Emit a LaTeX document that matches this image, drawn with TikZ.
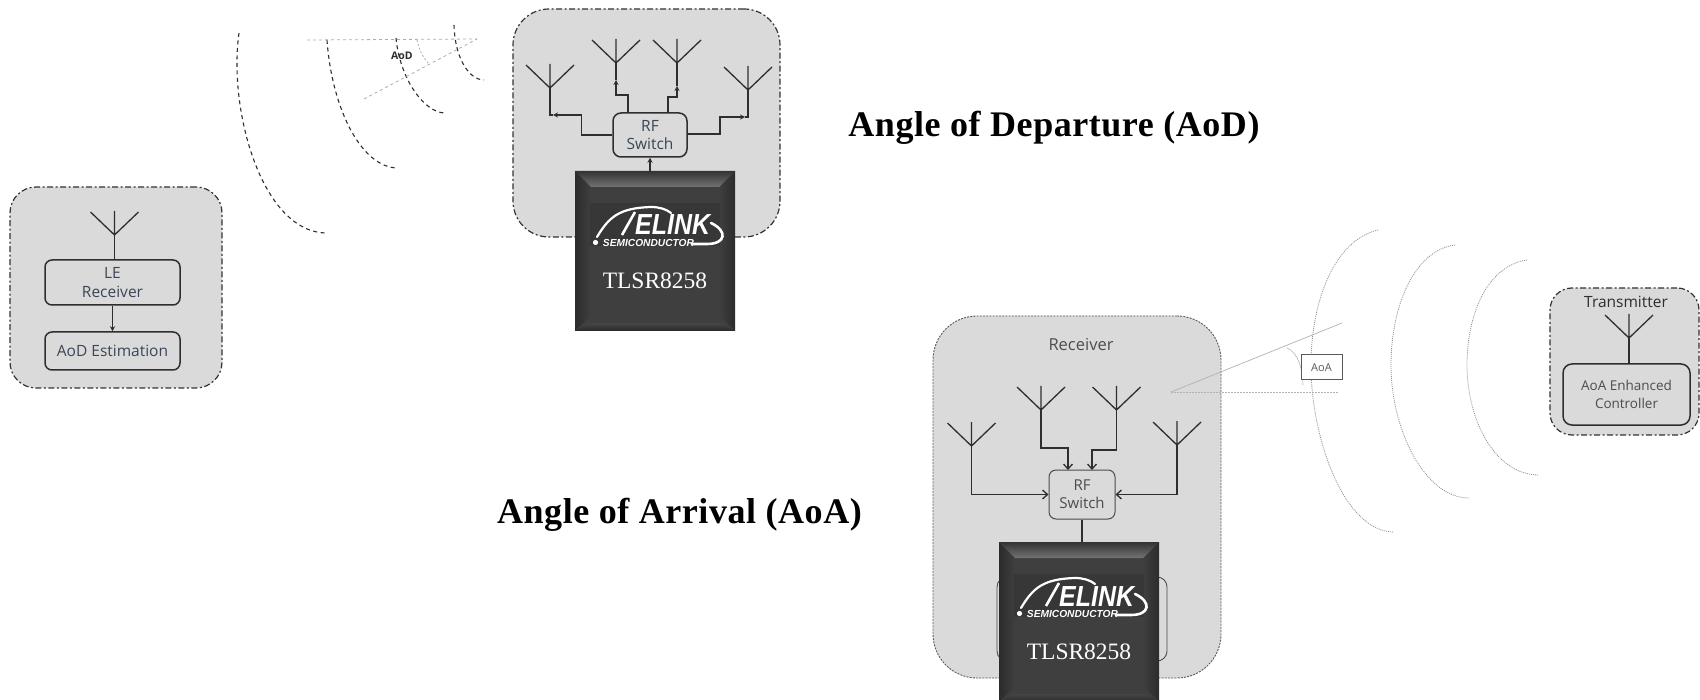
\documentclass[tikz,border=0pt]{standalone}
\usepackage{fontspec}
\setmainfont{Liberation Serif}
\newfontfamily\lab{Open Sans}
\newfontfamily\logof{Liberation Sans}
\usetikzlibrary{arrows.meta,calc}
\definecolor{panel}{HTML}{DADADA}
\definecolor{ink}{HTML}{2E2E2E}
\definecolor{slate}{HTML}{3A4656}
\definecolor{chipc}{HTML}{3F3F3F}
\definecolor{frame}{HTML}{333333}
\newcommand{\fs}[1]{\fontsize{#1}{#1}\selectfont}
\tikzset{
 panelbox/.style={draw=#1,fill=panel,line width=1.2pt,dash pattern=on 6pt off 2.5pt on 2pt off 2.5pt,inner sep=0pt},
 panelbox/.default=frame,
 blockbox/.style={draw=ink,fill=panel,line width=1.5pt,rounded corners=7pt,inner sep=0pt,align=center,text=slate,font=\lab\fs{15.5}},
 wire/.style={draw=ink,line width=1.3pt},
 tipwire/.style={wire,-{Stealth[length=5pt,width=5pt]}},
 openwire/.style={wire,-{Straight Barb[length=5pt,width=9pt]}},
 wave/.style={draw=ink,line width=1.1pt,dash pattern=on 4pt off 3.5pt},
 fwave/.style={draw=gray!85,line width=.8pt,dash pattern=on 1pt off 1pt},
 guide/.style={draw=gray!65,line width=.8pt,dash pattern=on 3pt off 3pt},
 heading/.style={font=\bfseries\fs{36}\addfontfeature{LetterSpace=1.5},text=black,inner sep=0pt},
 chiplabel/.style={font=\fs{23.5},text=white,inner sep=0pt},
}
\newcommand{\antenna}[3]{%
 \coordinate (#1) at (#2,#3);
 \draw[wire] (#1) -- ++(-24,-23) (#1) -- ++(24,-23) (#1) -- ++(0,-24);}
\newcommand{\chip}[3]{%
 \begin{scope}[shift={(#2,#3)}]
  \fill[chipc] (0,0) rectangle (160,160);
  \shade[left color=frame!85!black,right color=chipc] (0,0) -- (16,16) -- (16,144) -- (0,160) -- cycle;
  \shade[right color=frame!85!black,left color=chipc] (160,0) -- (144,16) -- (144,144) -- (160,160) -- cycle;
  \shade[top color=frame,bottom color=gray!90!black] (0,0) -- (160,0) -- (144,16) -- (16,16) -- cycle;
  \shade[top color=gray!55!black,bottom color=frame!80!black] (0,160) -- (160,160) -- (146,152) -- (14,152) -- cycle;
  \fill[black!80!chipc,opacity=.15] (15,32) rectangle (145,75);
  \draw[white,line width=2.2pt,line cap=round] (22,66) .. controls (34,46) and (44,37) .. (76,36) .. controls (84,36) and (91,38) .. (96,42);
  \draw[white,line width=2.6pt] (60,41) -- (47,64);
  \draw[white,line width=2.6pt,line cap=round] (136,52) .. controls (153,60) and (151,73) .. (132,73) -- (118,73);
  \fill[white] (20.5,71.5) circle (2.6);
  \node[inner sep=0pt,text=white,font=\logof\bfseries\itshape\fs{29},anchor=base west] (#1logo) at (60,64) {\scalebox{.86}[1]{ELINK}};
  \node[inner sep=0pt,text=white,font=\logof\bfseries\itshape\fs{10.2},anchor=center] (#1semi) at (73.5,71.5) {SEMICONDUCTOR};
  \node[chiplabel] (#1name) at (80,110) {TLSR8258};
 \end{scope}}
\begin{document}
\begin{tikzpicture}[x=1pt,y=-1pt]
\useasboundingbox (0,0) rectangle (1700,700);

% ---- Angle of Departure: single-antenna receiver
\node[panelbox,rounded corners=26pt,minimum width=212pt,minimum height=201pt] (aodpanel) at (116,287.5) {};
\node[blockbox,minimum width=135pt,minimum height=45pt] (le) at (112.5,282.5) {LE\\[3pt]Receiver};
\node[blockbox,minimum width=135pt,minimum height=38pt] (aodest) at (112.5,351) {AoD Estimation};
\antenna{antle}{114.5}{235}
\draw[wire] (antle) -- (antle |- le.north);
\draw[tipwire] (le.south) -- (aodest.north);

% ---- AoD waves
\draw[wave] (239,33) .. controls (228,110) and (262,233) .. (327,233);
\draw[wave] (327,40) .. controls (332,110) and (362,168) .. (398,168);
\draw[wave] (396,38) .. controls (400,80) and (425,113) .. (445,113);
\draw[wave] (454,25) .. controls (455,60) and (470,80) .. (484,80);
\coordinate (aodapex) at (477,39);
\coordinate (aodh) at (307,40);
\coordinate (aodd) at (364,99);
\draw[guide] (aodh) -- (aodapex);
\draw[guide] (aodd) -- (aodapex);
\draw[guide,dash pattern=on 2pt off 2pt] (417,40) .. controls (419,50) and (423,57) .. (428,63);
\node[inner sep=0pt,font=\lab\bfseries\fs{10.5},text=ink] (aodtxt) at (402,55.5) {AoD};

% ---- AoD transmitter panel
\node[panelbox,rounded corners=36pt,minimum width=267pt,minimum height=228pt] (txpanel) at (646.5,123) {};
\node[blockbox,minimum width=74pt,minimum height=44pt,rounded corners=8pt] (swa) at (650,135) {RF\\[3pt]Switch};
\antenna{a1}{550}{88}
\antenna{a2}{616}{63}
\antenna{a3}{677}{63}
\antenna{a4}{748}{90}
\coordinate (a1t) at (553,115);
\coordinate (a2t) at (616,80);
\coordinate (a3t) at (677,86);
\coordinate (a4t) at (745,117);
\draw[wire] (a1) |- (a1t);
\draw[tipwire] (swa.west) -- ++(-31,0) |- (a1t);
\draw[wire] (a2) -- (a2t);
\draw[tipwire] (628,113) |- (616,95) -- (a2t);
\draw[wire] (a3) -- (a3t);
\draw[tipwire] (668,113) |- (677,97) -- (a3t);
\draw[wire] (a4) |- (a4t);
\draw[tipwire] (687,134) -| (720,117) -- (a4t);
\chip{ca}{575}{171}
\draw[tipwire] (650,171) -- (swa.south);

% ---- headings
\node[heading] (hd) at (1054,128) {Angle of Departure (AoD)};
\node[heading] (ha) at (679.5,515) {Angle of Arrival (AoA)};

% ---- Angle of Arrival receiver panel
\node[panelbox=gray!70!black,line width=.9pt,rounded corners=44pt,minimum width=288pt,minimum height=362pt,dash pattern=on 2pt off 1.2pt] (rxpanel) at (1077,497) {};
\node[inner sep=0pt,font=\lab\fs{16.5},text=ink!85] (rxt) at (1081,345) {Receiver};
\node[blockbox,draw=gray!60!black,line width=1pt,text=ink!85,minimum width=66pt,minimum height=49pt,font=\lab\fs{15}] (swb) at (1082,494.5) {RF\\[3pt]Switch};
\antenna{b1}{971.5}{446}
\antenna{b2}{1041}{410}
\antenna{b3}{1116.5}{410}
\antenna{b4}{1177}{445}
\coordinate (b2t) at (1068,470);
\coordinate (b3t) at (1092,470);
\draw[openwire] (b1) |- (swb.west);
\draw[openwire] (b4) |- (swb.east);
\draw[openwire] (b2) |- (1068,448) -- (b2t);
\draw[openwire] (b3) |- (1092,450) -- (b3t);
\node[draw=gray!60!black,line width=.9pt,rounded corners=10pt,minimum width=170pt,minimum height=84pt,inner sep=0pt] (ctrlb) at (1082,619) {};
\draw[wire] (swb.south) -- (1082,542);
\chip{cb}{999}{542}

% ---- AoA waves
\draw[fwave] (1378,230) .. controls (1335,240) and (1311,300) .. (1311,365) .. controls (1311,440) and (1345,532) .. (1394,532);
\draw[fwave] (1455,245) .. controls (1415,250) and (1391,305) .. (1391,365) .. controls (1391,430) and (1425,498) .. (1469,498);
\draw[fwave] (1527,260) .. controls (1490,265) and (1467,310) .. (1467,365) .. controls (1467,420) and (1495,475) .. (1539,475);
\coordinate (aoaapex) at (1171,392);
\coordinate (aoau) at (1342,323);
\coordinate (aoal) at (1339,392);
\draw[draw=gray!60,line width=.7pt] (aoaapex) -- (aoau);
\draw[draw=gray!60,line width=.8pt,dash pattern=on 1.5pt off 1.5pt] (aoaapex) -- (aoal);
\draw[draw=gray!60,line width=.6pt] (1287,348) .. controls (1298,352) and (1303,370) .. (1303,385);
\node[draw=gray!70!black,fill=white,line width=1pt,inner sep=0pt,minimum width=41pt,minimum height=25pt,font=\lab\fs{11},text=ink!80] (aoatxt) at (1321.5,367.5) {AoA};

% ---- AoA transmitter panel
\node[panelbox,rounded corners=22pt,minimum width=149pt,minimum height=147pt] (aoatx) at (1624.5,361.5) {};
\node[inner sep=0pt,font=\lab\fs{15.5},text=ink] (txt) at (1626,302) {Transmitter};
\node[blockbox,minimum width=127pt,minimum height=61pt,rounded corners=9pt,text=ink!85,font=\lab\fs{13.5}] (aoactl) at (1626.5,394.5) {AoA Enhanced\\[4pt]Controller};
\antenna{t1}{1629}{338}
\draw[wire] (t1) -- (t1 |- aoactl.north);
\end{tikzpicture}
\end{document}
